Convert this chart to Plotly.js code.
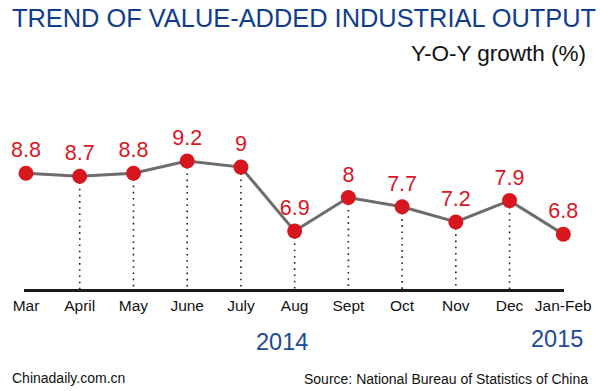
<!DOCTYPE html>
<html>
<head>
<meta charset="utf-8">
<script src="https://cdn.plot.ly/plotly-3.0.1.min.js"></script>
<style>html,body{margin:0;padding:0;background:#fff;}#chart{width:600px;height:391px;}</style>
</head>
<body>
<div id="chart"></div>
<script>
const months = ["Mar","April","May","June","July","Aug","Sept","Oct","Nov","Dec","Jan-Feb"];
const growth = [8.8, 8.7, 8.8, 9.2, 9.0, 6.9, 8.0, 7.7, 7.2, 7.9, 6.8];
const labels = ["8.8","8.7","8.8","9.2","9","6.9","8","7.7","7.2","7.9","6.8"];
const dropLineMonths = ["April","May","June","July","Aug","Sept","Oct","Nov","Dec"];
const yearLabels = ["2014","2015"];

const FONT = "Liberation Sans, Arial, Helvetica, sans-serif";
const AXIS_BASE = 5.0;

const idx = months.map((m,i)=>i);

const shapes = dropLineMonths.map(m => {
  const i = months.indexOf(m);
  return {
    type: 'line', xref: 'x', yref: 'y', layer: 'below',
    x0: i, x1: i, y0: growth[i], y1: AXIS_BASE,
    line: {color: '#222', width: 1.6, dash: '1.6px,4.6px'}
  };
});

const trace = {
  x: idx, y: growth, text: labels,
  mode: 'lines+markers+text',
  textposition: 'top center',
  textfont: {family: FONT, size: 21.5, color: '#d7161f'},
  line: {color: '#6d6d6d', width: 3},
  marker: {color: '#d7161f', size: 15},
  cliponaxis: false,
  hoverinfo: 'skip'
};

const layout = {
  width: 600, height: 391,
  margin: {l: 0, r: 0, t: 0, b: 0},
  paper_bgcolor: '#fff', plot_bgcolor: '#fff',
  showlegend: false,
  font: {family: FONT},
  title: {
    text: 'TREND OF VALUE-ADDED INDUSTRIAL OUTPUT',
    font: {family: FONT, size: 25.4, color: '#0f3d8c'},
    x: 12/600, xanchor: 'left', xref: 'container',
    y: 1 - 18.5/391, yanchor: 'middle', yref: 'container'
  },
  xaxis: {
    domain: [24/600, 564/600],
    range: [-0.0372, 10.013],
    tickvals: idx, ticktext: months,
    ticks: '', showgrid: false, zeroline: false,
    showline: true, linecolor: '#1a1a1a', linewidth: 3,
    tickfont: {family: FONT, size: 15.5, color: '#111'},
    fixedrange: true
  },
  yaxis: {
    domain: [(391-289)/391, 1],
    range: [AXIS_BASE, 14.482],
    visible: false, showgrid: false, zeroline: false,
    fixedrange: true
  },
  shapes: shapes,
  annotations: [
    {text: 'Y-O-Y growth (%)', xref: 'paper', yref: 'paper', x: 588/600, y: 1-54/391,
     xanchor: 'right', yanchor: 'middle', showarrow: false,
     font: {family: FONT, size: 22.5, color: '#111'}},
    {text: yearLabels[0], xref: 'paper', yref: 'paper', x: 281.5/600, y: 1-342/391,
     xanchor: 'center', yanchor: 'middle', showarrow: false,
     font: {family: FONT, size: 23.5, color: '#1b4a96'}},
    {text: yearLabels[1], xref: 'paper', yref: 'paper', x: 557/600, y: 1-339/391,
     xanchor: 'center', yanchor: 'middle', showarrow: false,
     font: {family: FONT, size: 23.5, color: '#1b4a96'}},
    {text: 'Chinadaily.com.cn', xref: 'paper', yref: 'paper', x: 10/600, y: 1-378/391,
     xanchor: 'left', yanchor: 'middle', showarrow: false,
     font: {family: FONT, size: 14, color: '#111'}},
    {text: 'Source: National Bureau of Statistics of China', xref: 'paper', yref: 'paper', x: 590/600, y: 1-379/391,
     xanchor: 'right', yanchor: 'middle', showarrow: false,
     font: {family: FONT, size: 14, color: '#111'}}
  ]
};

Plotly.newPlot('chart', [trace], layout, {displayModeBar: false, staticPlot: true});
</script>
</body>
</html>
